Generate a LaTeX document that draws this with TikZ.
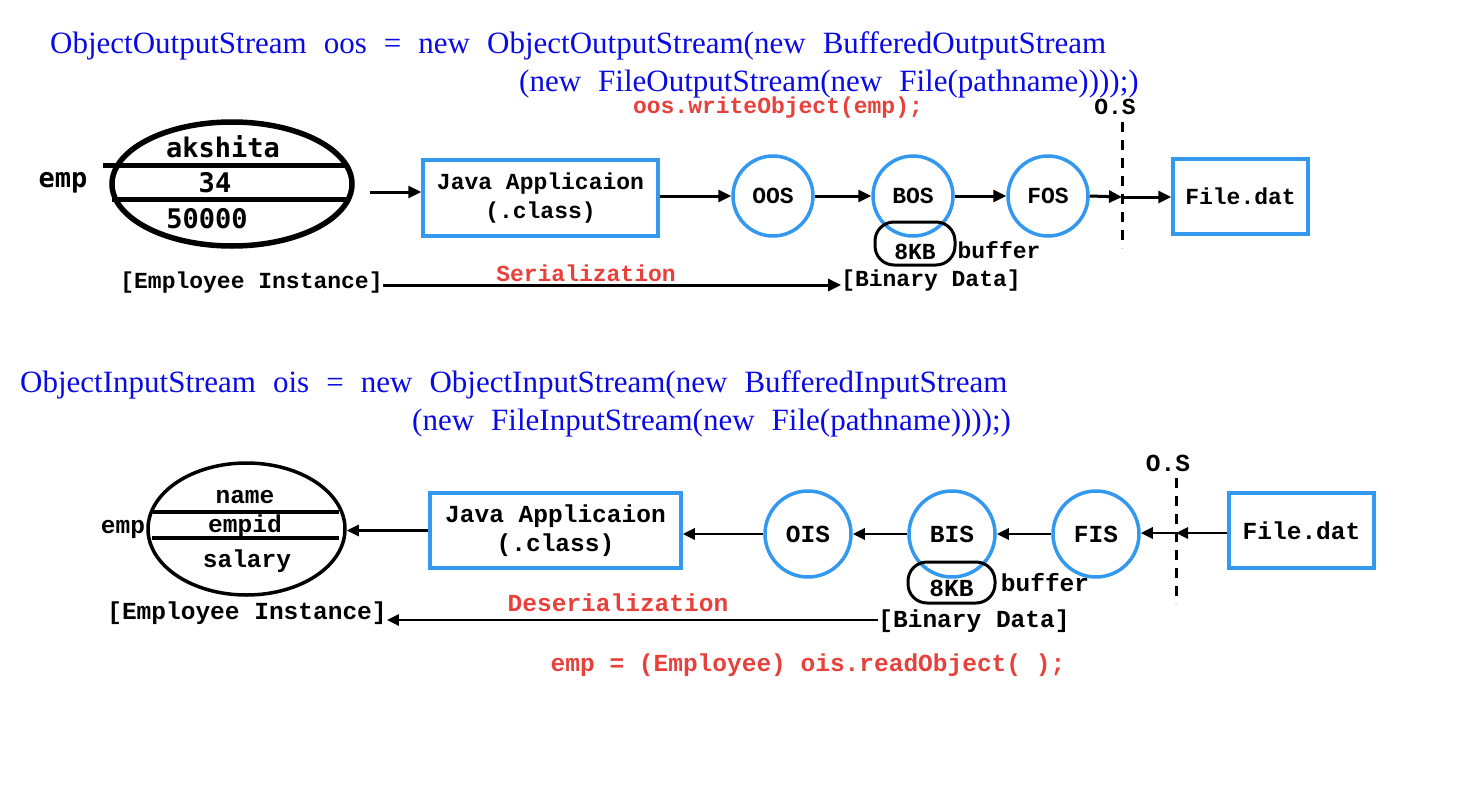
\documentclass[tikz,border=0pt]{standalone}
\usepackage{fontspec}
\setmainfont{Liberation Serif}
\newfontfamily\blu{Liberation Serif}[WordSpace=2.2]
\newfontfamily\cour{Liberation Mono}
\newfontfamily\dvm{DejaVu Sans Mono}
\usetikzlibrary{arrows.meta,shapes.geometric}
\definecolor{boxblue}{RGB}{51,153,238}
\definecolor{codeblue}{RGB}{10,10,230}
\definecolor{codered}{RGB}{232,65,60}
\newcommand{\csA}{\cour\bfseries\fontsize{23}{29}\selectfont}
\newcommand{\csB}{\cour\bfseries\fontsize{24.5}{29}\selectfont}
\newcommand{\cblue}{\blu\fontsize{31}{36}\selectfont}
\begin{document}
\begin{tikzpicture}[x=1pt,y=-1pt,
  txt/.style={inner sep=0pt},
  codeline/.style={inner sep=0pt, anchor=base west, text=codeblue, font=\cblue},
  redA/.style={inner sep=0pt, text=codered, font=\csA},
  redB/.style={inner sep=0pt, text=codered, font=\csB},
  boxA/.style={draw=boxblue, line width=3.5pt, inner sep=0pt, align=center, font=\csA},
  boxB/.style={draw=boxblue, line width=3.5pt, inner sep=0pt, align=center, font=\csB},
  circA/.style={circle, draw=boxblue, line width=3.5pt, inner sep=0pt, minimum size=80pt, font=\csA},
  circB/.style={circle, draw=boxblue, line width=3.5pt, inner sep=0pt, minimum size=86pt, font=\csB},
  kbbox/.style={draw=black, line width=3pt, rounded corners=19pt, inner sep=0pt},
  arrA/.style={-{Triangle[length=13pt,width=12pt]}, line width=3pt},
  arrB/.style={-{Triangle[length=12pt,width=11pt]}, line width=2.8pt},
  osline/.style={line width=3pt, dash pattern=on 10pt off 8pt},
]
\useasboundingbox[fill=white] (0,0) rectangle (1481,795);

%================ TOP : serialization =================
\node[codeline] (code1a) at (50,53) {ObjectOutputStream oos = new ObjectOutputStream(new BufferedOutputStream};
\node[codeline] (code1b) at (519,91) {(new FileOutputStream(new File(pathname))));)};
\node[redA] (write) at (778,108) {oos.writeObject(emp);};

% employee instance
\node[ellipse, draw, line width=5.5pt, minimum width=240pt, minimum height=124pt, inner sep=0pt] (e1) at (232,184) {};
\draw[line width=5pt] (103,165) -- (348,165);
\draw[line width=5pt] (112,199) -- (346,199);
\node[txt, font=\dvm\bfseries\fontsize{27}{30}\selectfont] (empA) at (63,183) {emp};
\node[txt, font=\dvm\bfseries\fontsize{27}{30}\selectfont] (nameA) at (223,147) {akshita};
\node[txt, font=\dvm\bfseries\fontsize{27}{30}\selectfont] (idA) at (215,183) {34};
\node[txt, font=\dvm\bfseries\fontsize{27}{30}\selectfont] (salA) at (207,219) {50000};

\node[boxA, minimum width=235pt, minimum height=76pt] (java1) at (540.5,198) {Java Applicaion\\(.class)};
\node[circA] (oos) at (773,196) {OOS};
\node[circA] (bos) at (913,196) {BOS};
\node[circA] (fos) at (1048,196) {FOS};
\node[boxA, minimum width=135pt, minimum height=75pt] (file1) at (1240.5,196.5) {File.dat};
\node[kbbox, minimum width=80pt, minimum height=43pt,
  label={[font=\csA, inner sep=0pt, yshift=-8.5pt]center:8KB}] (kb1) at (915,243.5) {};
\node[txt, font=\csA] (buf1) at (999,250) {buffer};

\node[txt, font=\csA] (os1) at (1115,107) {O.S};
\coordinate (d1top) at (1122,122);
\coordinate (d1bot) at (1122,248);
\coordinate (d1mid) at (1122,197);
\draw[osline] (d1top) -- (d1bot);

\draw[arrA] ([xshift=15pt,yshift=-8pt]e1.east) -- ([yshift=6pt]java1.west);
\draw[arrA] (java1.east |- oos.west) -- (oos.west);
\draw[arrA] (oos.east) -- (bos.west);
\draw[arrA] (bos.east) -- (fos.west);
\draw[arrA] (fos.east) -- (d1mid);
\draw[arrA] (d1mid) -- (d1mid -| file1.west);

\node[txt, font=\csA] (ei1) at (251.5,283) {[Employee Instance]};
\node[txt, font=\csA] (bd1) at (931,281) {[Binary Data]};
\node[redA] (ser) at (586,273) {Serialization};
\draw[arrA] ([yshift=-2pt]ei1.east) -- ([yshift=-2pt]ei1.east -| bd1.west);

%================ BOTTOM : deserialization =================
\node[codeline] (code2a) at (20,392) {ObjectInputStream ois = new ObjectInputStream(new BufferedInputStream};
\node[codeline] (code2b) at (412,430) {(new FileInputStream(new File(pathname))));)};

\node[ellipse, draw, line width=3.5pt, minimum width=197pt, minimum height=132pt, inner sep=0pt] (e2) at (246.5,529) {};
\draw[line width=3.5pt] (153,512) -- (339,512);
\draw[line width=3.5pt] (152,538) -- (339,538);
\node[txt, font=\csB] (empB) at (123,529) {emp};
\node[txt, font=\csB] (nameB) at (245,497) {name};
\node[txt, font=\csB] (idB) at (245,526) {empid};
\node[txt, font=\csB] (salB) at (247,561) {salary};

\node[boxB, minimum width=251pt, minimum height=75pt] (java2) at (555.5,530.5) {Java Applicaion\\(.class)};
\node[circB] (ois) at (808,534) {OIS};
\node[circB] (bis) at (952,534) {BIS};
\node[circB] (fis) at (1096,534) {FIS};
\node[boxB, minimum width=145pt, minimum height=75pt] (file2) at (1301.5,530.5) {File.dat};
\node[kbbox, minimum width=87pt, minimum height=41pt,
  label={[font=\csB, inner sep=0pt, yshift=-5.5pt]center:8KB}] (kb2) at (951.5,582.5) {};
\node[txt, font=\csB] (buf2) at (1045,583) {buffer};

\node[txt, font=\csB] (os2) at (1168,463) {O.S};
\coordinate (d2top) at (1176,478);
\coordinate (d2bot) at (1176,604);
\coordinate (d2mid) at (1176,533);
\draw[osline] (d2top) -- (d2bot);

\draw[arrB] (file2.west |- d2mid) -- (d2mid);
\draw[arrB] (d2mid) -- (d2mid -| fis.east);
\draw[arrB] (fis.west) -- (bis.east);
\draw[arrB] (bis.west) -- (ois.east);
\draw[arrB] (ois.west) -- (ois.west -| java2.east);
\draw[arrB] (java2.west) -- (java2.west -| e2.east);

\node[txt, font=\csB] (ei2) at (247,613) {[Employee Instance]};
\node[txt, font=\csB] (bd2) at (974,621) {[Binary Data]};
\node[redB] (deser) at (618,603) {Deserialization};
\draw[arrB] ([yshift=1pt]bd2.west) -- ([yshift=1pt]bd2.west -| ei2.east);
\node[redB] (read) at (808,665) {emp = (Employee) ois.readObject( );};
\end{tikzpicture}
\end{document}
